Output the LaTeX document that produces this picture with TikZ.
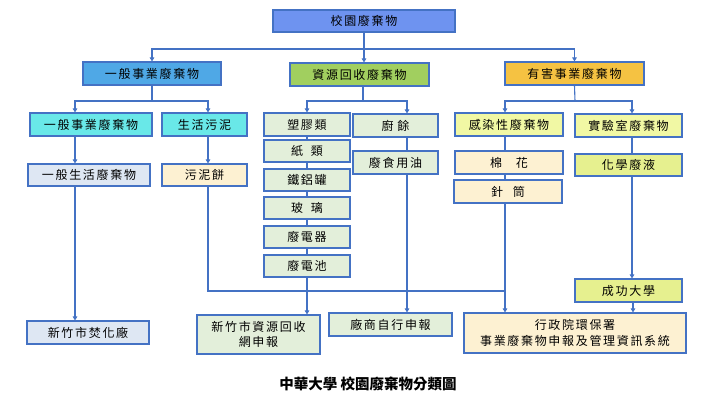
\documentclass[tikz,border=0pt]{standalone}
\usepackage{fontspec}
\usetikzlibrary{arrows.meta}
\newfontfamily\cjk[LetterSpace=14]{Noto Sans CJK TC}
\newfontfamily\cjkcap{Noto Sans CJK TC}
\definecolor{lineblue}{HTML}{4472C4}
\definecolor{ctop}{HTML}{6E93F0}
\definecolor{cgen}{HTML}{4FA8E6}
\definecolor{crec}{HTML}{A1CF5F}
\definecolor{chaz}{HTML}{F5C242}
\definecolor{ccyan}{HTML}{69E8E8}
\definecolor{cgreen}{HTML}{E3EFDA}
\definecolor{cyel}{HTML}{F1F8A4}
\definecolor{cyel2}{HTML}{E6F08F}
\definecolor{ccream}{HTML}{FDF1D2}
\definecolor{cgray}{HTML}{DEE7F3}
\newcommand\bx[7]{\node[box, fill=#6, minimum width=#4pt, minimum height=#5pt] (#1) at (#2,#3) {#7};}
\begin{document}
\begin{tikzpicture}[x=1pt,y=-1pt,
  box/.style={draw=lineblue, line width=1.1pt, inner sep=0pt, font=\cjk\fontsize{12}{15.5}\selectfont, text=black, align=center},
  ln/.style={draw=lineblue, line width=1.1pt},
  arr/.style={ln, -{Triangle[length=4pt,width=4.5pt]}}]
\useasboundingbox[fill=white] (0,0) rectangle (716,404);
% level 1-2
\bx{top}{364}{21}{182}{22}{ctop}{校園廢棄物}
\bx{g1}{152}{73.5}{138}{23}{cgen}{一般事業廢棄物}
\bx{g2}{359.5}{74.5}{139}{23}{crec}{資源回收廢棄物}
\bx{g3}{574.5}{73.5}{139}{23}{chaz}{有害事業廢棄物}
% level 3
\bx{c1}{91}{124.5}{122}{23}{ccyan}{一般事業廢棄物}
\bx{c2}{204.5}{124.5}{85}{23}{ccyan}{生活污泥}
\bx{r1}{307}{124.5}{86}{23}{cgreen}{塑膠類}
\bx{r2}{395.5}{125.5}{85}{23}{cgreen}{廚\hspace{4pt}餘}
\bx{h1}{509}{124.5}{108}{23}{cyel}{感染性廢棄物}
\bx{h2}{628.5}{125.5}{107}{23}{cyel}{實驗室廢棄物}
% level 4
\bx{d1}{89}{175}{122}{22}{cgray}{一般生活廢棄物}
\bx{d2}{204.5}{175}{85}{22}{ccream}{污泥餅}
\bx{r3}{307}{151}{86}{22}{cgreen}{紙\hspace{8pt}類}
\bx{r4}{307}{180}{86}{22}{cgreen}{鐵鋁罐}
\bx{r5}{307}{208}{86}{22}{cgreen}{玻\hspace{8pt}璃}
\bx{r6}{307}{237}{86}{22}{cgreen}{廢電器}
\bx{r7}{307}{266}{86}{22}{cgreen}{廢電池}
\bx{r8}{395.5}{162.5}{85}{23}{cgreen}{廢食用油}
\bx{h3}{509}{162.5}{108}{23}{ccream}{棉\hspace{14pt}花}
\bx{h4}{508}{191.5}{108}{23}{ccream}{針\hspace{10pt}筒}
\bx{h5}{628.5}{165}{107}{22}{cyel2}{化學廢液}
\bx{h6}{628.5}{290.5}{107}{23}{cyel2}{成功大學}
% bottom
\bx{b1}{88}{332.5}{122}{23}{cgray}{新竹市焚化廠}
\bx{b2}{258.5}{334.5}{123}{39}{cgreen}{新竹市資源回收\\網申報}
\bx{b3}{390.5}{324.5}{123}{23}{cgreen}{廠商自行申報}
\bx{b4}{575}{333}{222}{40}{ccream}{行政院環保署\\事業廢棄物申報及管理資訊系統}
\node[font=\cjkcap\bfseries\fontsize{14.5}{16}\selectfont, anchor=center] (cap) at (368,384) {中華大學 校園廢棄物分類圖};
% coordinates
\coordinate (j0) at (364,49);
\coordinate (j1) at (152,101);
\coordinate (j2) at (363,101);
\coordinate (j3) at (575,101);
\coordinate (xA) at (75,0);
\coordinate (xB) at (208,0);
\coordinate (xC) at (407,0);
\coordinate (xD) at (505,0);
\coordinate (xE) at (632,0);
\coordinate (xF) at (633,0);
\coordinate (jm) at (208,291);
\coordinate (jn) at (505,291);
% level1 -> level2
\draw[arr] (top.south) -- (top.south |- g2.north);
\draw[arr] (j0) -| (g1.north);
\draw[arr] (j0) -| (g3.north);
% g1 branch
\draw[ln] (g1.south) -- (j1);
\draw[arr] (j1) -| (xA |- c1.north);
\draw[arr] (j1) -| (xB |- c2.north);
% g2 branch
\draw[ln] (j2 |- g2.south) -- (j2);
\draw[arr] (j2) -| (r1.north);
\draw[arr] (j2) -| (xC |- r2.north);
% g3 branch
\draw[ln] (g3.south) -- (j3);
\draw[arr] (j3) -| (xD |- h1.north);
\draw[arr] (j3) -| (xE |- h2.north);
% general
\draw[arr] (xA |- c1.south) -- (xA |- d1.north);
\draw[arr] (xA |- d1.south) -- (xA |- b1.north);
\draw[arr] (xB |- c2.south) -- (xB |- d2.north);
\draw[ln] (xB |- d2.south) -- (jm) -- (jn);
% recycling
\draw[ln] (r1.south) -- (r3.north);
\draw[ln] (r3.south) -- (r4.north);
\draw[ln] (r4.south) -- (r5.north);
\draw[ln] (r5.south) -- (r6.north);
\draw[ln] (r6.south) -- (r7.north);
\draw[arr] (r7.south) -- (r7.south |- b2.north);
\draw[ln] (xC |- r2.south) -- (xC |- r8.north);
\draw[arr] (xC |- r8.south) -- (xC |- b3.north);
% hazardous
\draw[ln] (xD |- h1.south) -- (xD |- h3.north);
\draw[ln] (xD |- h3.south) -- (xD |- h4.north);
\draw[arr] (xD |- h4.south) -- (xD |- b4.north);
\draw[ln] (xE |- h2.south) -- (xE |- h5.north);
\draw[arr] (xE |- h5.south) -- (xE |- h6.north);
\draw[arr] (xF |- h6.south) -- (xF |- b4.north);
\end{tikzpicture}
\end{document}
